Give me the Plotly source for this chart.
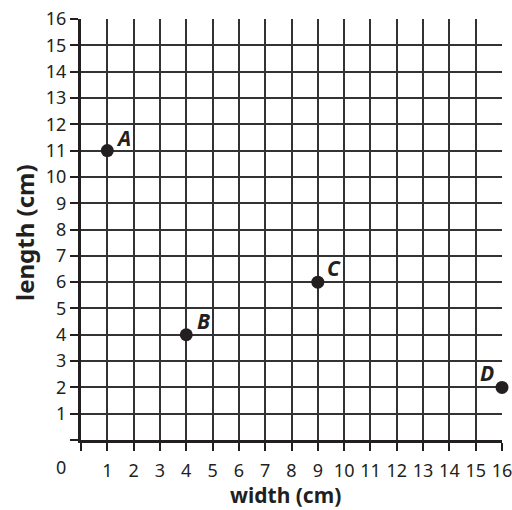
import plotly.graph_objects as go

labels = ["A", "B", "C", "D"]
widths = [1, 4, 9, 16]
lengths = [11, 4, 6, 2]
label_dx = [16, 17, 16, -15]
label_dy = [13, 14, 14, 14]

tick_vals = list(range(0, 17))
tick_text = [""] + [str(v) for v in range(1, 17)]

x_title = "width (cm)"
y_title = "length (cm)"

ink = "#231f20"
FONT = "Noto Sans"

fig = go.Figure()
fig.add_trace(go.Scatter(
    x=widths, y=lengths, mode="markers",
    marker=dict(size=13, color=ink),
    cliponaxis=False, hoverinfo="skip", showlegend=False,
))

for lab, xv, yv, dx, dy in zip(labels, widths, lengths, label_dx, label_dy):
    fig.add_annotation(
        x=xv, y=yv, text=lab, showarrow=False, xshift=dx, yshift=dy,
        xanchor="center", yanchor="middle",
        font=dict(family=FONT, size=21, color=ink, weight="bold", style="italic"),
    )

axis_common = dict(
    range=[0, 16], tickvals=tick_vals, ticktext=tick_text,
    showgrid=True, gridcolor="#333333", gridwidth=1.5,
    zeroline=False, showline=True, linecolor=ink, linewidth=3,
    ticks="outside", ticklen=8, tickwidth=1.5, tickcolor=ink,
    tickfont=dict(family=FONT, size=18, color=ink),
    fixedrange=True, automargin=False, ticklabeloverflow="allow",
)

fig.update_xaxes(**axis_common, ticklabelstandoff=4)
fig.update_yaxes(**axis_common, ticklabelstandoff=0)

fig.add_annotation(text="0", xref="paper", yref="paper", x=(61 - 81) / 421, y=(440 - 466.5) / 421,
                   showarrow=False, font=dict(family=FONT, size=18, color=ink),
                   xanchor="center", yanchor="middle")

fig.add_annotation(text=x_title, xref="paper", yref="paper", x=(285 - 81) / 421, y=(440 - 495) / 421,
                   showarrow=False, font=dict(family=FONT, size=21, color=ink, weight="bold"),
                   xanchor="center", yanchor="middle")
fig.add_annotation(text=y_title, xref="paper", yref="paper", x=(24 - 81) / 421, y=(440 - 233) / 421,
                   showarrow=False, textangle=-90, font=dict(family=FONT, size=24, color=ink, weight="bold"),
                   xanchor="center", yanchor="middle")

fig.update_layout(
    width=512, height=510,
    margin=dict(l=81, r=10, t=19, b=70),
    plot_bgcolor="white", paper_bgcolor="white",
)

fig.write_html("out.html", config={"displayModeBar": False},
               post_script="document.body.style.margin='0px';document.body.style.overflow='hidden';")
